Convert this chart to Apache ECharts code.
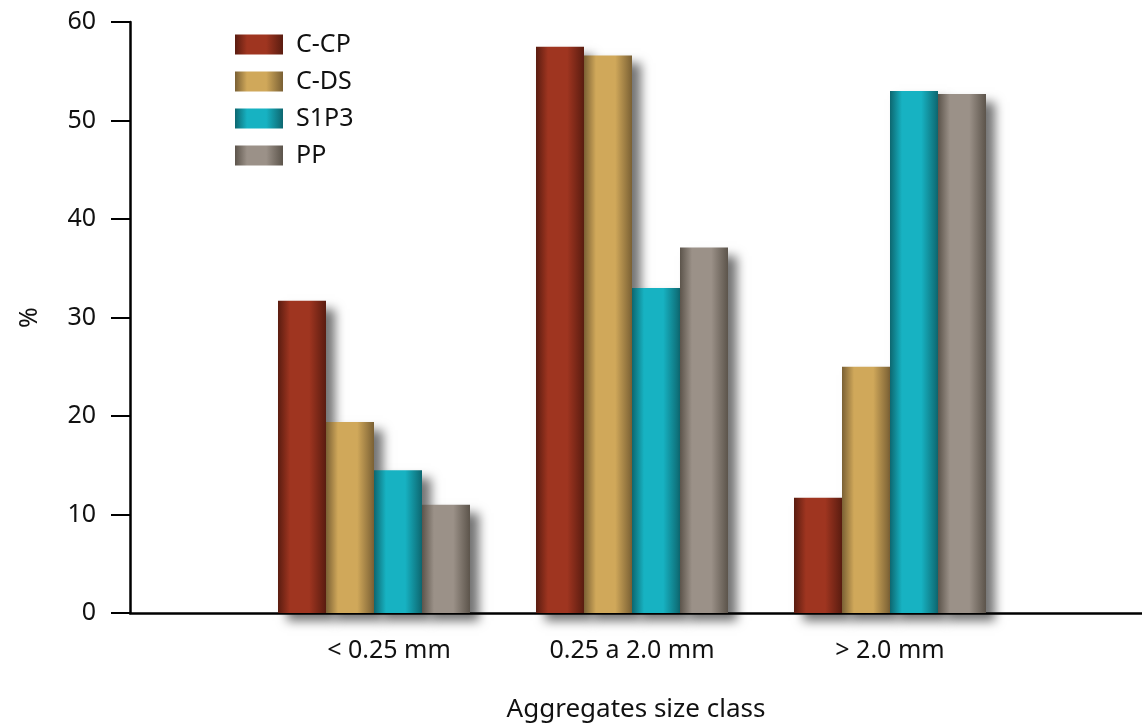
<!DOCTYPE html>
<html>
<head>
<meta charset="utf-8">
<script src="https://cdn.jsdelivr.net/npm/echarts@6/dist/echarts.min.js"></script>
<style>
html,body{margin:0;padding:0;background:#fff;}
#chart{width:1142px;height:725px;}
</style>
</head>
<body>
<div id="chart"></div>
<script>
const categories = ['< 0.25 mm', '0.25 a 2.0 mm', '> 2.0 mm'];
const seriesNames = ['C-CP', 'C-DS', 'S1P3', 'PP'];
const cCP = [31.7, 57.5, 11.7];
const cDS = [19.4, 56.6, 25.0];
const s1P3 = [14.5, 33.0, 53.0];
const pp = [11.0, 37.1, 52.7];
const yTicks = [0, 10, 20, 30, 40, 50, 60];

const edgeColors = ['#5a1c10', '#7a6034', '#0d6770', '#5c544b'];
const midColors = ['#9f3520', '#d0a85a', '#17b2c2', '#9b9188'];
const values = [cCP, cDS, s1P3, pp];

function grad(i) {
  return {
    type: 'linear', x: 0, y: 0, x2: 1, y2: 0,
    colorStops: [
      {offset: 0, color: edgeColors[i]},
      {offset: 0.25, color: midColors[i]},
      {offset: 0.65, color: midColors[i]},
      {offset: 1, color: edgeColors[i]}
    ]
  };
}

const FONT = 'Noto Sans';
const chart = echarts.init(document.getElementById('chart'));
chart.setOption({
  animation: false,
  backgroundColor: '#fff',
  textStyle: {fontFamily: FONT},
  legend: {
    orient: 'vertical',
    left: 230, top: 27,
    icon: 'rect',
    itemWidth: 48, itemHeight: 20, itemGap: 12,
    textStyle: {fontSize: 25, color: '#111', fontFamily: FONT, padding: [0,0,0,8]},
    data: seriesNames
  },
  grid: [
    {left: 130, right: 0, top: 22, bottom: 112, containLabel: false, outerBoundsMode: 'none'},
    {left: 245, right: 123, top: 22, bottom: 112, containLabel: false, outerBoundsMode: 'none'}
  ],
  xAxis: [
    {gridIndex: 0, type: 'value', min: 0, max: 1,
     axisLine: {show: true, lineStyle: {color: '#000', width: 2.5}},
     axisTick: {show: false}, axisLabel: {show: false}, splitLine: {show: false},
     name: 'Aggregates size class', nameLocation: 'middle', nameGap: 84,
     nameTextStyle: {fontSize: 26, color: '#111', fontFamily: FONT}},
    {gridIndex: 1, type: 'category', data: categories,
     axisLine: {show: false}, axisTick: {show: false},
     axisLabel: {fontSize: 25, color: '#111', margin: 25, fontFamily: FONT,
       formatter: (v, idx) => idx === 0 ? '{a|' + v + '}' : v,
       rich: {a: {fontSize: 25, color: '#111', fontFamily: FONT, padding: [0, 0, 0, 30]}}}}
  ],
  yAxis: [
    {gridIndex: 0, type: 'value', min: yTicks[0], max: yTicks[yTicks.length-1], interval: 10,
     axisLine: {show: true, lineStyle: {color: '#000', width: 2.5}},
     axisTick: {show: true, length: 19, lineStyle: {color: '#000', width: 2}},
     axisLabel: {fontSize: 25, color: '#111', margin: 34, fontFamily: FONT},
     splitLine: {show: false},
     name: '%', nameLocation: 'middle', nameGap: 88,
     nameTextStyle: {fontSize: 25, color: '#111', fontFamily: FONT}},
    {gridIndex: 1, type: 'value', min: 0, max: 60, show: false}
  ],
  series: values.map((v, i) => ({
    name: seriesNames[i],
    type: 'bar',
    xAxisIndex: 1, yAxisIndex: 1,
    data: v,
    barWidth: 48,
    barGap: '0%',
    itemStyle: {
      color: grad(i),
      shadowColor: 'rgba(0,0,0,0.55)',
      shadowBlur: 10,
      shadowOffsetX: 9,
      shadowOffsetY: 8
    }
  }))
});
</script>
</body>
</html>
